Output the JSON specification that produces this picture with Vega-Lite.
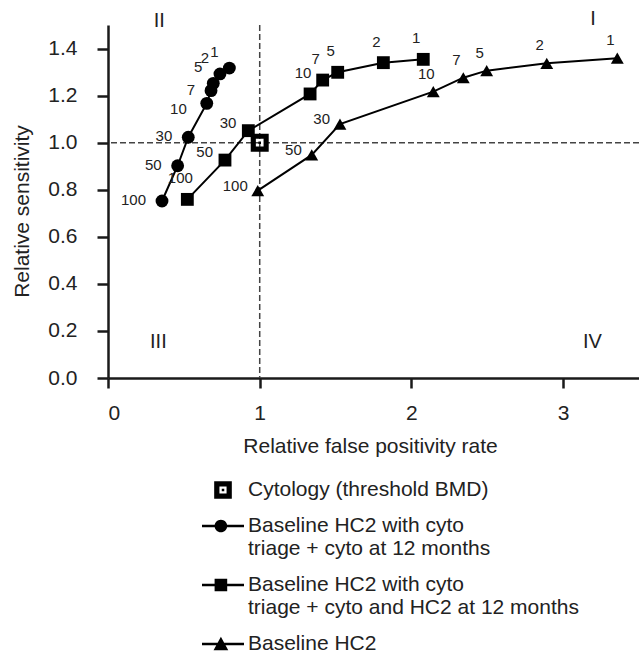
{
  "$schema": "https://vega.github.io/schema/vega-lite/v6.json",
  "width": 531,
  "height": 353,
  "autosize": {"type": "none"},
  "padding": {"left": 108, "top": 25, "right": 0, "bottom": 274},
  "background": "white",
  "config": {
    "view": {"stroke": null},
    "font": "Liberation Sans",
    "axis": {
      "grid": false,
      "domainColor": "#1a1a1a",
      "domainWidth": 2.5,
      "tickColor": "#1a1a1a",
      "tickWidth": 2.5,
      "labelFont": "Liberation Sans",
      "labelFontSize": 21,
      "labelColor": "#222222",
      "titleFont": "Liberation Sans",
      "titleFontSize": 21,
      "titleFontWeight": "normal",
      "titleColor": "#222222"
    }
  },
  "datasets": {
    "curves": [
      {"series": "Cytology (threshold BMD)", "fpr": 1.0, "sens": 1.0},
      {"series": "Baseline HC2 with cyto triage + cyto at 12 months", "n": 100, "fpr": 0.356, "sens": 0.752},
      {"series": "Baseline HC2 with cyto triage + cyto at 12 months", "n": 50, "fpr": 0.459, "sens": 0.902},
      {"series": "Baseline HC2 with cyto triage + cyto at 12 months", "n": 30, "fpr": 0.529, "sens": 1.023},
      {"series": "Baseline HC2 with cyto triage + cyto at 12 months", "n": 10, "fpr": 0.651, "sens": 1.167},
      {"series": "Baseline HC2 with cyto triage + cyto at 12 months", "n": 7, "fpr": 0.679, "sens": 1.221},
      {"series": "Baseline HC2 with cyto triage + cyto at 12 months", "n": 5, "fpr": 0.694, "sens": 1.252},
      {"series": "Baseline HC2 with cyto triage + cyto at 12 months", "n": 2, "fpr": 0.738, "sens": 1.292},
      {"series": "Baseline HC2 with cyto triage + cyto at 12 months", "n": 1, "fpr": 0.800, "sens": 1.317},
      {"series": "Baseline HC2 with cyto triage + cyto and HC2 at 12 months", "n": 100, "fpr": 0.523, "sens": 0.759},
      {"series": "Baseline HC2 with cyto triage + cyto and HC2 at 12 months", "n": 50, "fpr": 0.771, "sens": 0.926},
      {"series": "Baseline HC2 with cyto triage + cyto and HC2 at 12 months", "n": 30, "fpr": 0.925, "sens": 1.051},
      {"series": "Baseline HC2 with cyto triage + cyto and HC2 at 12 months", "n": 10, "fpr": 1.332, "sens": 1.207},
      {"series": "Baseline HC2 with cyto triage + cyto and HC2 at 12 months", "n": 7, "fpr": 1.415, "sens": 1.266},
      {"series": "Baseline HC2 with cyto triage + cyto and HC2 at 12 months", "n": 5, "fpr": 1.514, "sens": 1.299},
      {"series": "Baseline HC2 with cyto triage + cyto and HC2 at 12 months", "n": 2, "fpr": 1.815, "sens": 1.340},
      {"series": "Baseline HC2 with cyto triage + cyto and HC2 at 12 months", "n": 1, "fpr": 2.078, "sens": 1.354},
      {"series": "Baseline HC2", "n": 100, "fpr": 0.987, "sens": 0.796},
      {"series": "Baseline HC2", "n": 50, "fpr": 1.343, "sens": 0.948},
      {"series": "Baseline HC2", "n": 30, "fpr": 1.529, "sens": 1.079},
      {"series": "Baseline HC2", "n": 10, "fpr": 2.144, "sens": 1.217},
      {"series": "Baseline HC2", "n": 7, "fpr": 2.342, "sens": 1.276},
      {"series": "Baseline HC2", "n": 5, "fpr": 2.496, "sens": 1.306},
      {"series": "Baseline HC2", "n": 2, "fpr": 2.892, "sens": 1.337},
      {"series": "Baseline HC2", "n": 1, "fpr": 3.357, "sens": 1.359}
    ],
    "quadrants": [
      {"q": "I", "fpr": 3.197, "sens": 1.524},
      {"q": "II", "fpr": 0.338, "sens": 1.518},
      {"q": "III", "fpr": 0.332, "sens": 0.154},
      {"q": "IV", "fpr": 3.193, "sens": 0.154}
    ]
  },
  "resolve": {"scale": {"shape": "independent"}},
  "layer": [
    {
      "data": {"values": [{"fpr": 1}]},
      "mark": {"type": "rule", "strokeDash": [6, 3], "color": "#444444", "strokeWidth": 1.5},
      "encoding": {
        "x": {"field": "fpr", "type": "quantitative", "scale": {"domain": [0, 3.5], "nice": false},
          "axis": {"values": [0, 1, 2, 3], "format": "d", "tickSize": 10, "labelPadding": 14,
            "title": "Relative false positivity rate", "titleX": 262, "titleY": 74, "titleAlign": "center", "titleBaseline": "alphabetic"}}
      }
    },
    {
      "data": {"values": [{"sens": 1}]},
      "mark": {"type": "rule", "strokeDash": [6, 3], "color": "#444444", "strokeWidth": 1.5},
      "encoding": {
        "y": {"field": "sens", "type": "quantitative", "scale": {"domain": [0, 1.5], "nice": false},
          "axis": {"values": [0, 0.2, 0.4, 0.6, 0.8, 1.0, 1.2, 1.4], "format": ".1f", "tickSize": 11, "labelPadding": 20,
            "title": "Relative sensitivity", "titleX": -86, "titleY": 186, "titleAngle": -90, "titleAlign": "center", "titleBaseline": "middle"}}
      }
    },
    {
      "data": {"name": "curves"},
      "mark": {"type": "line", "color": "black", "strokeWidth": 2},
      "encoding": {
        "x": {"field": "fpr", "type": "quantitative"},
        "y": {"field": "sens", "type": "quantitative"},
        "detail": {"field": "series", "type": "nominal"}
      }
    },
    {
      "data": {"name": "curves"},
      "mark": {"type": "point", "filled": true, "color": "black", "opacity": 1, "size": 165},
      "encoding": {
        "x": {"field": "fpr", "type": "quantitative"},
        "y": {"field": "sens", "type": "quantitative"},
        "shape": {
          "field": "series", "type": "nominal",
          "scale": {
            "domain": ["Cytology (threshold BMD)", "Baseline HC2 with cyto triage + cyto at 12 months", "Baseline HC2 with cyto triage + cyto and HC2 at 12 months", "Baseline HC2"],
            "range": ["M-1.4,-1.4H1.4V1.4H-1.4ZM-0.6,-0.6V0.6H0.6V-0.6ZM-0.2,-0.2H0.2V0.2H-0.2Z", "circle", "square", "triangle-up"]
          },
          "legend": null
        }
      }
    },
    {
      "data": {"name": "curves"},
      "transform": [{"filter": "false"}],
      "mark": {"type": "point", "filled": true, "color": "black", "opacity": 1, "size": 1764, "strokeWidth": 0},
      "encoding": {
        "x": {"field": "fpr", "type": "quantitative"},
        "y": {"field": "sens", "type": "quantitative"},
        "shape": {
          "field": "series", "type": "nominal",
          "scale": {
            "domain": ["Cytology (threshold BMD)", "Baseline HC2 with cyto triage + cyto at 12 months", "Baseline HC2 with cyto triage + cyto and HC2 at 12 months", "Baseline HC2"],
            "range": [
              "M-0.42,-0.42H0.42V0.42H-0.42ZM-0.17,-0.17V0.17H0.17V-0.17ZM-0.06,-0.06H0.06V0.06H-0.06Z",
              "M-1,-0.06H1V0.06H-1ZM-0.4,0A0.3,0.3 0 1 1 0.2,0A0.3,0.3 0 1 1 -0.4,0Z",
              "M-1,-0.06H1V0.06H-1ZM-0.4,-0.3H0.2V0.3H-0.4Z",
              "M-1,-0.06H1V0.06H-1ZM-0.45,0.3L-0.1,-0.35L0.25,0.3Z"
            ]
          },
          "legend": {
            "orient": "none", "legendX": 94, "legendY": 444, "title": null, "padding": 0,
            "labelFont": "Liberation Sans", "labelFontSize": 21, "labelColor": "#222222", "labelLimit": 600,
            "labelOffset": 4, "rowPadding": 5, "symbolSize": 1764, "symbolStrokeWidth": 0,
            "labelExpr": "split(datum.label, regexp('(?=triage)'))",
            "encode": {
              "symbols": {"update": {"opacity": {"value": 1}, "size": {"value": 1764}, "fill": {"value": "black"}, "strokeWidth": {"value": 0}}},
              "labels": {"update": {"lineHeight": {"value": 21}}}
            }
          }
        }
      }
    },
    {
      "data": {"name": "curves"},
      "transform": [{"filter": "datum.series === 'Baseline HC2 with cyto triage + cyto at 12 months' && datum.n >= 7 && datum.n !== 10"}],
      "mark": {"type": "text", "fontSize": 15, "color": "#222222", "align": "right", "baseline": "middle", "dx": -16, "dy": -1},
      "encoding": {"x": {"field": "fpr", "type": "quantitative"}, "y": {"field": "sens", "type": "quantitative"}, "text": {"field": "n", "type": "nominal"}}
    },
    {
      "data": {"name": "curves"},
      "transform": [{"filter": "datum.series === 'Baseline HC2 with cyto triage + cyto at 12 months' && datum.n === 10"}],
      "mark": {"type": "text", "fontSize": 15, "color": "#222222", "align": "right", "baseline": "middle", "dx": -20, "dy": 6},
      "encoding": {"x": {"field": "fpr", "type": "quantitative"}, "y": {"field": "sens", "type": "quantitative"}, "text": {"field": "n", "type": "nominal"}}
    },
    {
      "data": {"name": "curves"},
      "transform": [{"filter": "datum.series === 'Baseline HC2 with cyto triage + cyto at 12 months' && datum.n <= 5"}],
      "mark": {"type": "text", "fontSize": 15, "color": "#222222", "align": "center", "baseline": "middle", "dx": -15, "dy": -16},
      "encoding": {"x": {"field": "fpr", "type": "quantitative"}, "y": {"field": "sens", "type": "quantitative"}, "text": {"field": "n", "type": "nominal"}}
    },
    {
      "data": {"name": "curves"},
      "transform": [{"filter": "datum.series === 'Baseline HC2 with cyto triage + cyto and HC2 at 12 months' && (datum.n === 50 || datum.n === 30)"}],
      "mark": {"type": "text", "fontSize": 15, "color": "#222222", "align": "right", "baseline": "middle", "dx": -12, "dy": -8},
      "encoding": {"x": {"field": "fpr", "type": "quantitative"}, "y": {"field": "sens", "type": "quantitative"}, "text": {"field": "n", "type": "nominal"}}
    },
    {
      "data": {"name": "curves"},
      "transform": [{"filter": "datum.series === 'Baseline HC2 with cyto triage + cyto and HC2 at 12 months' && datum.n !== 50 && datum.n !== 30"}],
      "mark": {"type": "text", "fontSize": 15, "color": "#222222", "align": "center", "baseline": "middle", "dx": -7, "dy": -21},
      "encoding": {"x": {"field": "fpr", "type": "quantitative"}, "y": {"field": "sens", "type": "quantitative"}, "text": {"field": "n", "type": "nominal"}}
    },
    {
      "data": {"name": "curves"},
      "transform": [{"filter": "datum.series === 'Baseline HC2' && datum.n >= 30"}],
      "mark": {"type": "text", "fontSize": 15, "color": "#222222", "align": "right", "baseline": "middle", "dx": -10, "dy": -5},
      "encoding": {"x": {"field": "fpr", "type": "quantitative"}, "y": {"field": "sens", "type": "quantitative"}, "text": {"field": "n", "type": "nominal"}}
    },
    {
      "data": {"name": "curves"},
      "transform": [{"filter": "datum.series === 'Baseline HC2' && datum.n <= 10"}],
      "mark": {"type": "text", "fontSize": 15, "color": "#222222", "align": "center", "baseline": "middle", "dx": -7, "dy": -18},
      "encoding": {"x": {"field": "fpr", "type": "quantitative"}, "y": {"field": "sens", "type": "quantitative"}, "text": {"field": "n", "type": "nominal"}}
    },
    {
      "data": {"name": "quadrants"},
      "mark": {"type": "text", "fontSize": 20, "color": "#222222", "align": "center", "baseline": "middle"},
      "encoding": {"x": {"field": "fpr", "type": "quantitative"}, "y": {"field": "sens", "type": "quantitative"}, "text": {"field": "q", "type": "nominal"}}
    }
  ]
}
